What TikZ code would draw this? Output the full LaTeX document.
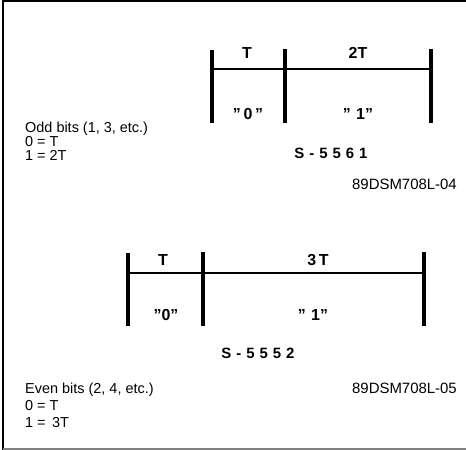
\documentclass[tikz,border=0pt]{standalone}
\usepackage{fontspec}
\setmainfont{Liberation Sans}
\begin{document}
\begin{tikzpicture}[x=1bp,y=-1bp,
  bar/.style={line width=3.3bp},
  hline/.style={line width=1.3bp},
  lbl/.style={font=\fontsize{16}{16}\selectfont\bfseries, inner sep=0pt},
  qlbl/.style={font=\fontsize{16}{16}\selectfont\bfseries, inner sep=0pt},
  txt/.style={font=\fontsize{14.5}{14.5}\selectfont, inner sep=0pt, anchor=base west},
  code/.style={font=\fontsize{15}{15}\selectfont, inner sep=0pt, anchor=base east},
  snum/.style={font=\fontsize{15}{15}\selectfont\bfseries, inner sep=0pt}]
\useasboundingbox (0,0) rectangle (466,450);
% frame
\draw[line width=1.5bp] (3,0) -- (3,450);
\draw[line width=1.5bp] (3,1) -- (466,1);
\draw[line width=1.5bp, gray] (3,449) -- (466,449);
% ---- top diagram ----
\coordinate (a1t) at (212,50); \coordinate (a1b) at (212,123);
\coordinate (a2t) at (285,49); \coordinate (a2b) at (285,123);
\coordinate (a3t) at (431,49); \coordinate (a3b) at (431,123);
\coordinate (ah1) at (212,69); \coordinate (ah3) at (431,69);
\draw[bar] (a1t) -- (a1b);
\draw[bar] (a2t) -- (a2b);
\draw[bar] (a3t) -- (a3b);
\draw[hline] (ah1) -- (ah3);
\node[lbl] (aT) at (247,53) {T};
\node[lbl] (a2T) at (358,53) {2T};
\node[qlbl] (a0) at (248,114) {"\,0\,"};
\node[qlbl] (a1) at (358,114) {"\,\,1"};
\node[snum] (as) at (331,153) {S\,\,-\,\,5\,\,5\,\,6\,\,1};
\node[code] (acode) at (457,190) {89DSM708L-04};
\node[txt] (atxt1) at (25,133) {Odd bits (1, 3, etc.)};
\node[txt] (atxt2) at (25,147) {0 = T};
\node[txt] (atxt3) at (25,161) {1 = 2T};
% ---- bottom diagram ----
\coordinate (b1t) at (128,253); \coordinate (b1b) at (128,326);
\coordinate (b2t) at (203,252); \coordinate (b2b) at (203,326);
\coordinate (b3t) at (424,252); \coordinate (b3b) at (424,326);
\coordinate (bh1) at (128,273); \coordinate (bh3) at (424,273);
\draw[bar] (b1t) -- (b1b);
\draw[bar] (b2t) -- (b2b);
\draw[bar] (b3t) -- (b3b);
\draw[hline] (bh1) -- (bh3);
\node[lbl] (bT) at (163,260) {T};
\node[lbl] (b3T) at (318,260) {3\,T};
\node[qlbl] (b0) at (166,315) {"0"};
\node[qlbl] (b1) at (313,315) {"\,\,1"};
\node[snum] (bs) at (258,353) {S\,\,-\,\,5\,\,5\,\,5\,\,2};
\node[code] (bcode) at (457,393) {89DSM708L-05};
\node[txt] (btxt1) at (25,393) {Even bits (2, 4, etc.)};
\node[txt] (btxt2) at (25,410) {0 = T};
\node[txt] (btxt3) at (25,427) {1 = \,3T};
\end{tikzpicture}
\end{document}
